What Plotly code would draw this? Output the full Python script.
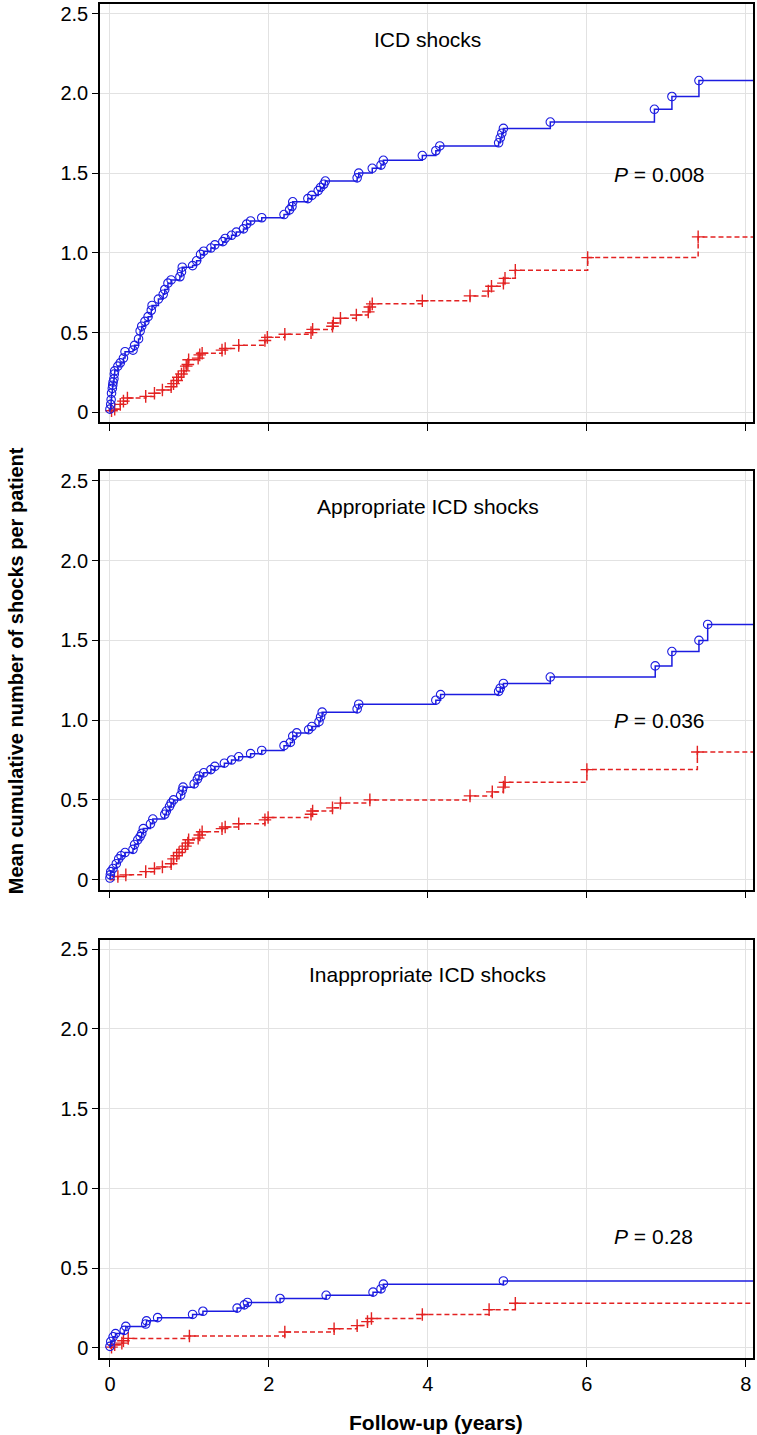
import plotly.graph_objects as go
from plotly.subplots import make_subplots

# ---------------- data ----------------
panel_titles = ["ICD shocks", "Appropriate ICD shocks", "Inappropriate ICD shocks"]
p_values = ["0.008", "0.036", "0.28"]
p_y = [1.49, 1.00, 0.70]

# Panel 1: ICD shocks
icd_blue_t = [0.0, 0.01, 0.015, 0.02, 0.03, 0.035, 0.04, 0.05, 0.055, 0.06, 0.10, 0.13, 0.17, 0.19, 0.29,
              0.31, 0.36, 0.38, 0.40, 0.44, 0.48, 0.52, 0.53, 0.61, 0.67, 0.69, 0.73, 0.77, 0.88, 0.90, 0.91,
              1.04, 1.09, 1.14, 1.18, 1.27, 1.32, 1.42, 1.45, 1.53, 1.59, 1.68, 1.72, 1.77, 1.91, 2.19, 2.26,
              2.29, 2.30, 2.49, 2.54, 2.62, 2.65, 2.69, 2.71, 3.11, 3.13, 3.30, 3.41, 3.44, 3.93, 4.10, 4.15,
              4.89, 4.91, 4.93, 4.95, 5.54, 6.85, 7.07, 7.41]
icd_blue_y = [0.02, 0.05, 0.08, 0.12, 0.15, 0.17, 0.19, 0.21, 0.24, 0.26, 0.29, 0.31, 0.34, 0.38, 0.39,
              0.42, 0.46, 0.51, 0.54, 0.57, 0.60, 0.64, 0.67, 0.71, 0.74, 0.77, 0.81, 0.83, 0.85, 0.88, 0.91,
              0.92, 0.95, 0.99, 1.01, 1.03, 1.05, 1.07, 1.09, 1.11, 1.13, 1.15, 1.18, 1.20, 1.22, 1.24, 1.27,
              1.29, 1.32, 1.34, 1.36, 1.39, 1.41, 1.43, 1.45, 1.47, 1.50, 1.53, 1.55, 1.58, 1.61, 1.64, 1.67,
              1.69, 1.72, 1.75, 1.78, 1.82, 1.90, 1.98, 2.08]
icd_red_t = [0.02, 0.06, 0.13, 0.17, 0.22, 0.45, 0.56, 0.66, 0.77, 0.80, 0.84, 0.86, 0.90, 0.93, 0.96, 0.98,
             0.99, 1.11, 1.13, 1.16, 1.41, 1.45, 1.62, 1.95, 1.98, 2.20, 2.53, 2.55, 2.80, 2.81, 2.90, 3.10,
             3.25, 3.27, 3.30, 3.93, 4.53, 4.76, 4.80, 4.95, 4.97, 5.10, 6.01, 7.40]
icd_red_y = [0.01, 0.02, 0.05, 0.07, 0.09, 0.10, 0.12, 0.14, 0.16, 0.18, 0.20, 0.22, 0.24, 0.26, 0.29, 0.30,
             0.33, 0.34, 0.36, 0.37, 0.39, 0.40, 0.42, 0.45, 0.47, 0.49, 0.50, 0.52, 0.54, 0.56, 0.59, 0.61,
             0.63, 0.66, 0.68, 0.70, 0.73, 0.76, 0.79, 0.81, 0.84, 0.89, 0.97, 1.10]

# Panel 2: Appropriate ICD shocks
app_blue_t = [0.0, 0.005, 0.01, 0.04, 0.08, 0.11, 0.14, 0.19, 0.29, 0.31, 0.35, 0.38, 0.40, 0.42, 0.51, 0.54,
              0.69, 0.71, 0.75, 0.77, 0.80, 0.89, 0.91, 0.92, 1.06, 1.10, 1.12, 1.18, 1.27, 1.32, 1.44, 1.53,
              1.62, 1.77, 1.91, 2.19, 2.27, 2.30, 2.35, 2.50, 2.54, 2.63, 2.65, 2.67, 3.11, 3.13, 4.10, 4.16,
              4.89, 4.91, 4.95, 5.54, 6.86, 7.07, 7.41, 7.52]
app_blue_y = [0.01, 0.03, 0.05, 0.07, 0.10, 0.13, 0.15, 0.17, 0.19, 0.22, 0.25, 0.27, 0.29, 0.32, 0.35, 0.38,
              0.41, 0.43, 0.46, 0.48, 0.50, 0.53, 0.56, 0.58, 0.60, 0.63, 0.65, 0.67, 0.69, 0.71, 0.73, 0.75,
              0.77, 0.79, 0.81, 0.84, 0.86, 0.90, 0.92, 0.94, 0.96, 0.99, 1.02, 1.05, 1.07, 1.10, 1.125, 1.16,
              1.18, 1.20, 1.23, 1.27, 1.34, 1.43, 1.50, 1.60]
app_red_t = [0.10, 0.20, 0.45, 0.56, 0.66, 0.77, 0.80, 0.84, 0.87, 0.91, 0.95, 0.98, 0.99, 1.11, 1.13, 1.16,
             1.41, 1.45, 1.62, 1.95, 1.99, 2.53, 2.55, 2.80, 2.90, 3.27, 4.53, 4.81, 4.95, 4.97, 6.00, 7.39]
app_red_y = [0.02, 0.03, 0.05, 0.07, 0.08, 0.10, 0.13, 0.15, 0.17, 0.19, 0.21, 0.23, 0.25, 0.26, 0.28, 0.30,
             0.32, 0.33, 0.35, 0.375, 0.39, 0.41, 0.43, 0.45, 0.48, 0.50, 0.525, 0.55, 0.58, 0.61, 0.69, 0.80]

# Panel 3: Inappropriate ICD shocks
inap_blue_t = [0.0, 0.01, 0.04, 0.07, 0.18, 0.20, 0.45, 0.46, 0.60, 1.04, 1.17, 1.60, 1.69, 1.73, 2.14, 2.72,
               3.31, 3.41, 3.44, 4.95]
inap_blue_y = [0.01, 0.04, 0.07, 0.09, 0.11, 0.135, 0.15, 0.17, 0.19, 0.21, 0.23, 0.25, 0.27, 0.285, 0.31,
               0.33, 0.35, 0.37, 0.40, 0.42]
inap_red_t = [0.02, 0.06, 0.15, 0.17, 0.23, 1.00, 2.20, 2.82, 3.11, 3.24, 3.29, 3.93, 4.77, 5.10]
inap_red_y = [0.005, 0.02, 0.03, 0.045, 0.06, 0.075, 0.10, 0.12, 0.14, 0.165, 0.185, 0.21, 0.24, 0.28]

x_ticks = [0, 2, 4, 6, 8]
y_ticks = [0, 0.5, 1.0, 1.5, 2.0, 2.5]
y_tick_text = ["0", "0.5", "1.0", "1.5", "2.0", "2.5"]
x_end = 8.3

# ---------------- figure ----------------
BLUE = "#1c1ce0"
RED = "#e32222"
FONT = "Liberation Sans, Arial, Helvetica, sans-serif"

fig = make_subplots(rows=3, cols=1)

panels = [
    (icd_blue_t, icd_blue_y, icd_red_t, icd_red_y),
    (app_blue_t, app_blue_y, app_red_t, app_red_y),
    (inap_blue_t, inap_blue_y, inap_red_t, inap_red_y),
]

for i, (bt, by, rt, ry) in enumerate(panels):
    row = i + 1
    # red dashed step line
    fig.add_trace(go.Scatter(x=[0] + rt + [x_end], y=[0] + ry + [ry[-1]], mode="lines",
                             line=dict(color=RED, width=1.5, shape="hv", dash="5px,3px"),
                             showlegend=False, hoverinfo="skip"), row=row, col=1)
    fig.add_trace(go.Scatter(x=rt, y=ry, mode="markers",
                             marker=dict(symbol="cross-thin", size=9, line=dict(color=RED, width=1.4)),
                             showlegend=False), row=row, col=1)
    # blue solid step line
    fig.add_trace(go.Scatter(x=[0] + bt + [x_end], y=[0] + by + [by[-1]], mode="lines",
                             line=dict(color=BLUE, width=1.5, shape="hv"),
                             showlegend=False, hoverinfo="skip"), row=row, col=1)
    fig.add_trace(go.Scatter(x=bt, y=by, mode="markers",
                             marker=dict(symbol="circle-open", size=8.5, color=BLUE, line=dict(color=BLUE, width=1.1)),
                             showlegend=False), row=row, col=1)

# layout: plot area px 100..755 horizontally, 2..1358 vertically
H = 1435
W = 757
top, bottom = 2, 1358
ph = bottom - top
doms_px = [(2, 421), (470, 889), (939, 1358)]
doms = [((bottom - b) / ph, (bottom - t) / ph) for (t, b) in doms_px]

for i in range(3):
    n = "" if i == 0 else str(i + 1)
    fig.layout["xaxis" + n].update(
        domain=[0, 1], range=[-0.125, 8.09], tickvals=x_ticks, showticklabels=(i == 2),
        ticks="outside", ticklen=7, tickwidth=1.3, tickcolor="black",
        showline=True, linecolor="black", linewidth=1.5, mirror=True,
        showgrid=True, gridcolor="#e2e2e2", gridwidth=1, zeroline=False,
        tickfont=dict(size=20, color="black", family=FONT),
    )
    fig.layout["yaxis" + n].update(
        domain=list(doms[i]), range=[-0.063, 2.56], tickvals=y_ticks, ticktext=y_tick_text,
        ticks="outside", ticklen=6, tickwidth=1.3, tickcolor="black",
        showline=True, linecolor="black", linewidth=1.5, mirror=True,
        showgrid=True, gridcolor="#e2e2e2", gridwidth=1, zeroline=False,
        tickfont=dict(size=20, color="black", family=FONT),
    )
    xr = "x" + n
    yr = "y" + n
    fig.add_annotation(x=4.0, y=2.34, xref=xr, yref=yr, text=panel_titles[i], showarrow=False,
                       font=dict(size=21, color="black", family=FONT), xanchor="center", yanchor="middle")
    fig.add_annotation(x=6.31, y=p_y[i], xref=xr, yref=yr, text="<i>P</i> = " + p_values[i], showarrow=False,
                       font=dict(size=21, color="black", family=FONT), xanchor="left", yanchor="middle")

# axis titles
fig.add_annotation(x=(437 - 100) / 655, y=(bottom - 1423) / ph, xref="paper", yref="paper",
                   text="<b>Follow-up (years)</b>", showarrow=False,
                   font=dict(size=21, color="black", family=FONT), xanchor="center", yanchor="middle")
fig.add_annotation(x=(16 - 100) / 655, y=(bottom - 670) / ph, xref="paper", yref="paper",
                   text="<b>Mean cumulative number of shocks per patient</b>", showarrow=False, textangle=-90,
                   font=dict(size=20, color="black", family=FONT), xanchor="center", yanchor="middle")

fig.update_layout(
    width=W, height=H,
    margin=dict(l=100, r=W - 755, t=top, b=H - bottom),
    plot_bgcolor="white", paper_bgcolor="white",
    showlegend=False,
    font=dict(family=FONT, color="black"),
)

fig.write_html("out.html", config={"displayModeBar": False},
               post_script="document.body.style.margin='0px';document.body.style.padding='0px';"
                           "document.documentElement.style.margin='0px';")
